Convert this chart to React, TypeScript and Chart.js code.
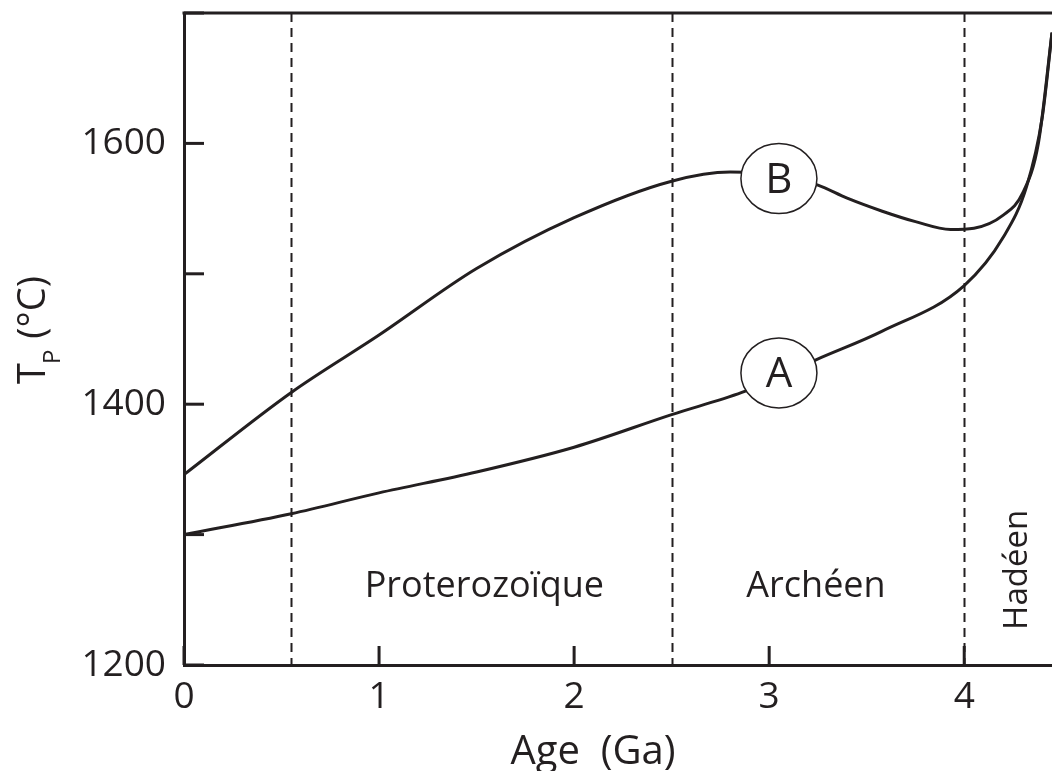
import React, { useEffect, useRef } from "react";
import { Chart, registerables } from "chart.js";

Chart.register(...registerables);

// ---- data ----
const ageA = [0, 0.55, 1, 1.5, 2, 2.5, 2.86, 3.05, 3.24, 3.58, 4.0, 4.2, 4.32, 4.4, 4.45];
const tempA = [1300, 1316, 1332, 1348, 1367, 1392, 1409, 1421, 1434, 1456, 1491, 1528, 1567, 1620, 1685];

const ageB = [0, 0.55, 1, 1.5, 2, 2.5, 2.8, 3.05, 3.25, 3.4, 3.58, 3.75, 3.93, 4.05, 4.2, 4.3, 4.38, 4.45];
const tempB = [1346, 1409, 1453, 1504, 1543, 1571, 1578, 1576, 1568, 1558, 1548, 1540, 1534, 1535, 1545, 1562, 1600, 1685];

const xTickValues = [0, 1, 2, 3, 4];
const yTickValues = [1200, 1300, 1400, 1500, 1600, 1700];
const yLabelled = [1200, 1400, 1600];

const eraBoundaries = [0.55, 2.5, 4.0];
const eraNames = ["Proterozoïque", "Archéen", "Hadéen"];
const eraAges = [1.54, 3.24, 4.32];
const eraTemps = [1252, 1252, 1273];

const curveNames = ["A", "B"];
const curveLabelAge = 3.05;
const curveLabelTemps = [1424, 1573];

const xTitle = "Age  (Ga)";

const INK = "#231f20";
const FONT = "'Open Sans', sans-serif";

const toPts = (xs: number[], ys: number[]) => xs.map((x, i) => ({ x, y: ys[i] }));

const decorPlugin = {
  id: "decor",
  beforeDatasetsDraw(chart: any) {
    const { ctx, chartArea, scales } = chart;
    const xs = scales.x;
    ctx.save();
    ctx.strokeStyle = INK;
    ctx.lineWidth = 2;
    ctx.setLineDash([9, 6]);
    eraBoundaries.forEach((b) => {
      const px = Math.round(xs.getPixelForValue(b)) + 0.5;
      ctx.beginPath();
      ctx.moveTo(px, chartArea.top);
      ctx.lineTo(px, chartArea.bottom);
      ctx.stroke();
    });
    ctx.restore();
  },
  afterDraw(chart: any) {
    const { ctx, chartArea, scales } = chart;
    const xs = scales.x;
    const ys = scales.y;
    ctx.save();
    ctx.strokeStyle = INK;
    ctx.fillStyle = INK;
    ctx.lineWidth = 3;
    // top border
    ctx.beginPath();
    ctx.moveTo(chartArea.left - 1.5, chartArea.top);
    ctx.lineTo(chart.width, chartArea.top);
    ctx.stroke();
    // inward ticks
    yTickValues.forEach((v) => {
      const py = ys.getPixelForValue(v);
      ctx.beginPath();
      ctx.moveTo(chartArea.left, py);
      ctx.lineTo(chartArea.left + 20, py);
      ctx.stroke();
    });
    xTickValues.forEach((v) => {
      const px = xs.getPixelForValue(v);
      ctx.beginPath();
      ctx.moveTo(px, chartArea.bottom);
      ctx.lineTo(px, chartArea.bottom - 19);
      ctx.stroke();
    });
    // curve label ellipses
    curveNames.forEach((name, i) => {
      const cx = xs.getPixelForValue(curveLabelAge);
      const cy = ys.getPixelForValue(curveLabelTemps[i]);
      ctx.beginPath();
      ctx.ellipse(cx, cy, 38, 35, 0, 0, Math.PI * 2);
      ctx.fillStyle = "#ffffff";
      ctx.fill();
      ctx.lineWidth = 1.5;
      ctx.strokeStyle = INK;
      ctx.stroke();
      ctx.fillStyle = INK;
      ctx.font = `42px ${FONT}`;
      ctx.textAlign = "center";
      ctx.textBaseline = "middle";
      ctx.fillText(name, cx, cy + 2);
    });
    // era labels
    ctx.fillStyle = INK;
    ctx.textBaseline = "alphabetic";
    eraNames.forEach((name, i) => {
      const px = xs.getPixelForValue(eraAges[i]);
      const py = ys.getPixelForValue(eraTemps[i]);
      if (i === 2) {
        ctx.save();
        ctx.font = `33px ${FONT}`;
        ctx.translate(px, py);
        ctx.rotate(-Math.PI / 2);
        ctx.textAlign = "center";
        ctx.fillText(name, 0, 0);
        ctx.restore();
      } else {
        ctx.font = `36px ${FONT}`;
        ctx.textAlign = "center";
        ctx.fillText(name, px, py);
      }
    });
    // x title
    ctx.font = `40px ${FONT}`;
    ctx.textAlign = "center";
    ctx.fillText(xTitle, 593, 764);
    // y title T_P (°C)
    ctx.save();
    ctx.translate(45, 384);
    ctx.rotate(-Math.PI / 2);
    ctx.textAlign = "left";
    ctx.font = `38px ${FONT}`;
    ctx.fillText("T", 0, 0);
    const wT = ctx.measureText("T").width;
    ctx.font = `24px ${FONT}`;
    ctx.fillText("P", wT - 1, 15);
    const wP = ctx.measureText("P").width;
    ctx.font = `38px ${FONT}`;
    ctx.fillText(" (°C)", wT + wP, 0);
    ctx.restore();
    ctx.restore();
  },
};

export default function App() {
  const ref = useRef<HTMLCanvasElement | null>(null);
  useEffect(() => {
    if (!ref.current) return;
    const chart = new Chart(ref.current, {
      type: "line",
      data: {
        datasets: [
          {
            label: "A",
            data: toPts(ageA, tempA),
            borderColor: INK,
            borderWidth: 3,
            pointRadius: 0,
            cubicInterpolationMode: "monotone",
            fill: false,
          },
          {
            label: "B",
            data: toPts(ageB, tempB),
            borderColor: INK,
            borderWidth: 3,
            pointRadius: 0,
            cubicInterpolationMode: "monotone",
            fill: false,
          },
        ],
      },
      options: {
        responsive: false,
        animation: false,
        layout: { padding: { top: 13, right: 0, left: 0, bottom: 0 } },
        plugins: { legend: { display: false }, tooltip: { enabled: false } },
        scales: {
          x: {
            type: "linear",
            min: 0,
            max: 4.45,
            grid: { display: false, drawTicks: false },
            border: { display: true, color: INK, width: 3 },
            ticks: {
              stepSize: 1,
              includeBounds: false,
              padding: 10,
              color: INK,
              font: { family: FONT, size: 37 },
              callback: (v: any) => (xTickValues.includes(Number(v)) ? String(v) : ""),
            },
            afterFit: (s: any) => {
              s.height = 106;
              s.paddingLeft = 0;
              s.paddingRight = 0;
            },
          },
          y: {
            type: "linear",
            min: 1200,
            max: 1700,
            grid: { display: false, drawTicks: false },
            border: { display: true, color: INK, width: 3 },
            ticks: {
              stepSize: 100,
              padding: 18,
              color: INK,
              font: { family: FONT, size: 37 },
              callback: (v: any) => (yLabelled.includes(Number(v)) ? String(v) : ""),
            },
            afterFit: (s: any) => {
              s.width = 184;
              s.paddingTop = 0;
              s.paddingBottom = 0;
            },
          },
        },
      },
      plugins: [decorPlugin],
    });
    return () => chart.destroy();
  }, []);
  return (
    <div style={{ position: "fixed", left: 0, top: 0, width: 1052, height: 771, background: "#fff" }}>
      <canvas ref={ref} width={1052} height={771} />
    </div>
  );
}
